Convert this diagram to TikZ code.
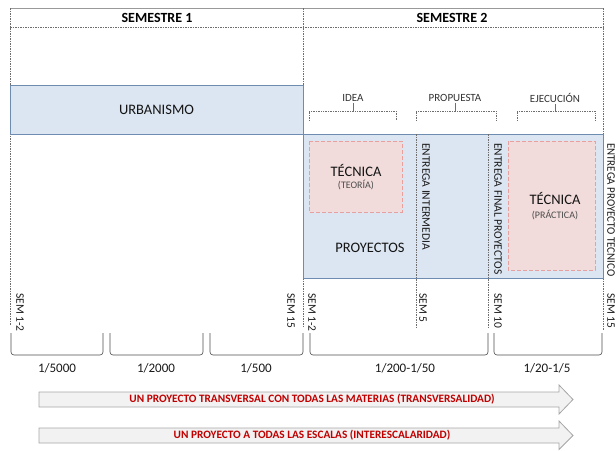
\documentclass[tikz,border=0pt]{standalone}
\usepackage{fontspec}
\setmainfont{Carlito}
\definecolor{framegray}{RGB}{110,110,110}
\definecolor{bluefill}{RGB}{220,230,242}
\definecolor{blueline}{RGB}{110,140,175}
\definecolor{pinkfill}{RGB}{242,220,219}
\definecolor{pinkline}{RGB}{232,160,158}
\definecolor{arrowfill}{RGB}{242,242,242}
\definecolor{arrowline}{RGB}{166,166,166}
\definecolor{darkred}{RGB}{192,0,0}
\begin{document}
\begin{tikzpicture}[x=1pt,y=-1pt,
    frameline/.style={draw=framegray, line width=0.5pt, dash pattern=on 1.5pt off 1pt},
    bluebox/.style={fill=bluefill, draw=blueline, line width=0.7pt},
    pinkbox/.style={fill=pinkfill, draw=pinkline, line width=0.7pt, dash pattern=on 4pt off 2pt},
    semtitle/.style={font=\fontsize{14}{16}\selectfont\bfseries},
    bigtext/.style={font=\fontsize{14.5}{16}\selectfont, text=black!92},
    smalltext/.style={font=\fontsize{11}{12}\selectfont, text=black!80, inner sep=1pt},
    subtext/.style={font=\fontsize{10}{12}\selectfont, text=black!70},
    vtext/.style={font=\fontsize{11.5}{13}\selectfont, text=black!90, rotate=-90, anchor=west, inner sep=0pt},
    phasebracket/.style={draw=framegray, line width=0.5pt, dash pattern=on 1pt off 0.7pt},
    scalebracket/.style={draw=black!70, line width=0.6pt, rounded corners=3pt},
    scaletext/.style={font=\fontsize{13}{15}\selectfont, text=black!90},
    bigarrow/.style={fill=arrowfill, draw=arrowline, line width=0.8pt},
    arrowtext/.style={font=\fontsize{11.3}{13}\selectfont\bfseries, text=darkred}]
    \useasboundingbox (0,0) rectangle (616,450);
    % frame
    \draw[draw=framegray!70, line width=0.6pt] (10,8) -- (603,8);
    \draw[frameline] (10,27) -- (603,27);
    \draw[frameline] (10,8) -- (10,325);
    \draw[frameline] (303,8) -- (303,328);
    \draw[frameline] (603,8) -- (603,330);
    \node[semtitle] (sem1) at (157,18) {SEMESTRE 1};
    \node[semtitle] (sem2) at (452,18) {SEMESTRE 2};
    % boxes
    \draw[bluebox] (10,85) rectangle (303,134);
    \node[bigtext] (urbanismo) at (156.5,109.5) {URBANISMO};
    \draw[bluebox] (303,134) rectangle (603,278);
    \draw[frameline] (416,134) -- (416,328);
    \draw[frameline] (488,134) -- (488,328);
    \draw[pinkbox] (309,141) rectangle (402,212);
    \draw[pinkbox] (508,141) rectangle (595,270);
    \node[bigtext] (tecteo) at (356,170) {TÉCNICA};
    \node[subtext] (teoria) at (356,185) {(TEORÍA)};
    \node[bigtext] (tecpra) at (555,198) {TÉCNICA};
    \node[subtext] (practica) at (555,215) {(PRÁCTICA)};
    \node[bigtext] (proyectos) at (370,248) {PROYECTOS};
    % phases
    \node[smalltext] (idea) at (353,98) {IDEA};
    \node[smalltext] (propuesta) at (455,98) {PROPUESTA};
    \node[smalltext] (ejecucion) at (555,98) {EJECUCIÓN};
    \draw[phasebracket] (309,121) -- (309,111) -- (396,111) -- (396,121);
    \draw[phasebracket] (416,121) -- (416,111) -- (496,111) -- (496,121);
    \draw[phasebracket] (517,121) -- (517,111) -- (595,111) -- (595,121);
    \draw[draw=framegray, line width=0.6pt] (idea.south) -- (353,111);
    \draw[draw=framegray, line width=0.6pt] (propuesta.south) -- (455,111);
    \draw[draw=framegray, line width=0.6pt] (ejecucion.south) -- (555,111);
    % deliveries
    \node[vtext] (intermedia) at (426,143) {ENTREGA INTERMEDIA};
    \node[vtext] (final) at (498,143) {ENTREGA FINAL PROYECTOS};
    \node[vtext, xscale=0.95] (tecnico) at (611,143) {ENTREGA PROYECTO TECNICO};
    % weeks
    \node[vtext] (wa) at (20,293) {SEM 1-2};
    \node[vtext] (wb) at (291,293) {SEM 15};
    \node[vtext] (wc) at (312,293) {SEM 1-2};
    \node[vtext] (wd) at (423,293) {SEM 5};
    \node[vtext] (we) at (498,293) {SEM 10};
    \node[vtext] (wf) at (611,293) {SEM 15};
    % scales
    \draw[scalebracket] (11,333) -- (11,355) -- (103,355) -- (103,333);
    \draw[scalebracket] (110,333) -- (110,355) -- (203,355) -- (203,333);
    \draw[scalebracket] (210,333) -- (210,355) -- (303,355) -- (303,333);
    \draw[scalebracket] (310,333) -- (310,355) -- (488,355) -- (488,333);
    \draw[scalebracket] (494,333) -- (494,355) -- (602,355) -- (602,333);
    \node[scaletext] (esa) at (57,368) {1/5000};
    \node[scaletext] (esb) at (156,368) {1/2000};
    \node[scaletext] (esc) at (256,368) {1/500};
    \node[scaletext] (esd) at (405,368) {1/200-1/50};
    \node[scaletext] (ese) at (547,368) {1/20-1/5};
    % arrows
    \draw[bigarrow] (39,392) -- (559,392) -- (559,385) -- (573,399.5) -- (559,414) -- (559,407) -- (39,407) -- cycle;
    \node[arrowtext] (transversal) at (312,399.5) {UN PROYECTO TRANSVERSAL CON TODAS LAS MATERIAS (TRANSVERSALIDAD)};
    \draw[bigarrow] (39,428) -- (559,428) -- (559,421) -- (573,435.5) -- (559,449.5) -- (559,443) -- (39,443) -- cycle;
    \node[arrowtext] (escalas) at (312,435.5) {UN PROYECTO A TODAS LAS ESCALAS (INTERESCALARIDAD)};
\end{tikzpicture}
\end{document}
